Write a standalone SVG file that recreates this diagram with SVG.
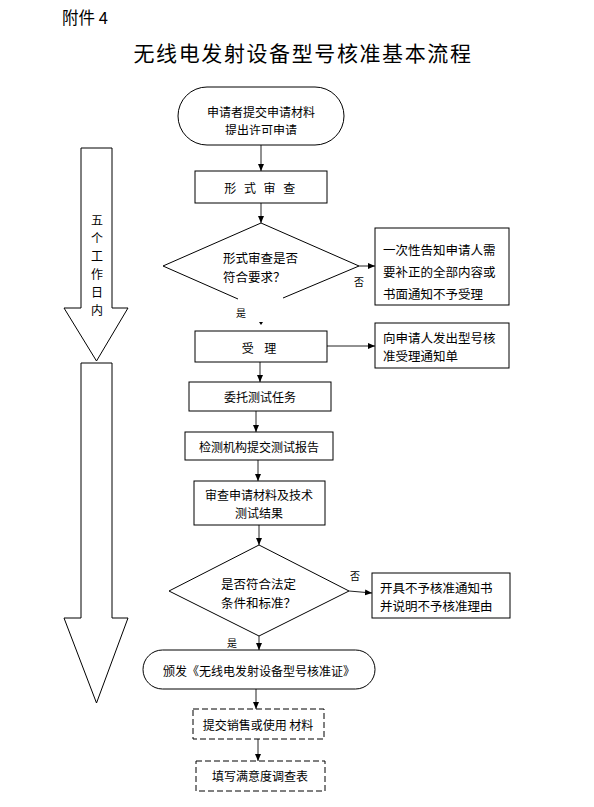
<svg xmlns="http://www.w3.org/2000/svg" width="594" height="807" viewBox="0 0 594 807">
<defs>
<style>
text{font-family:"Noto Sans CJK SC","Noto Sans",sans-serif;fill:#000}
.t{font-size:12px;text-anchor:middle;dominant-baseline:central}
.l{font-size:12.5px;dominant-baseline:central}
.s{font-size:10px;text-anchor:middle;dominant-baseline:central}
.box{fill:#fff;stroke:#000;stroke-width:1}
.dash{fill:#fff;stroke:#000;stroke-width:1;stroke-dasharray:6 3}
.con{stroke:#222;stroke-width:1;fill:none;marker-end:url(#ah)}
.big{fill:#fff;stroke:#000;stroke-width:1}
</style>
<marker id="ah" markerWidth="8" markerHeight="8" refX="7" refY="4" orient="auto" markerUnits="userSpaceOnUse">
<path d="M0,1 L7,4 L0,7 Z" fill="#000"/>
</marker>
<clipPath id="clip1"><rect x="178" y="87" width="166" height="48"/></clipPath>
</defs>
<rect width="594" height="807" fill="#fff"/>
<text x="62" y="17" style="font-size:16.5px;dominant-baseline:central">附件 4</text>
<text x="303" y="52" style="font-size:21px;letter-spacing:1.6px;text-anchor:middle;dominant-baseline:central">无线电发射设备型号核准基本流程</text>

<g id="timeline1">
<polygon class="big" points="81,148 112,148 112,308 128,308 96.5,361 64,308 81,308"/>
<text class="t" x="97" y="219">五</text>
<text class="t" x="97" y="237">个</text>
<text class="t" x="97" y="255">工</text>
<text class="t" x="97" y="273">作</text>
<text class="t" x="97" y="291">日</text>
<text class="t" x="97" y="309">内</text>
</g>
<g id="timeline2">
<polygon class="big" points="81,363 112,363 112,618 128,618 96.5,703 64,618 81,618"/>
</g>

<g id="connectors">
<line class="con" x1="261" y1="145" x2="261" y2="171"/>
<line class="con" x1="261" y1="203" x2="261" y2="223"/>
<line class="con" x1="359" y1="266" x2="375" y2="266"/>
<path d="M259,322 L263,322 L261,325 Z" fill="#000"/>
<line class="con" x1="327" y1="346" x2="375" y2="346"/>
<line class="con" x1="260" y1="362" x2="260" y2="382"/>
<line class="con" x1="256" y1="411" x2="256" y2="432"/>
<line class="con" x1="258" y1="460" x2="258" y2="481"/>
<line class="con" x1="259" y1="525" x2="259" y2="545"/>
<line class="con" x1="349" y1="591" x2="372" y2="593"/>
<line class="con" x1="259" y1="636" x2="259" y2="650"/>
<line class="con" x1="256" y1="689" x2="256" y2="709"/>
<line class="con" x1="258" y1="739" x2="258" y2="761"/>
<text class="s" x="359" y="281">否</text>
<text class="s" x="241" y="312">是</text>
<text class="s" x="355" y="575">否</text>
<text class="s" x="232" y="642">是</text>
</g>

<g id="start">
<rect class="box" x="178" y="87" width="166" height="58" rx="29"/>
<text class="t" x="261" y="111">申请者提交申请材料</text>
<text class="t" x="261" y="129" clip-path="url(#clip1)">提出许可申请</text>
</g>
<g id="formal">
<rect class="box" x="195" y="171" width="132" height="32"/>
<text class="t" x="261" y="187" style="letter-spacing:2.5px">形 式 审 查</text>
</g>
<g id="check1">
<polyline fill="none" stroke="#000" points="238,299 163,266 261,223 359,266 283,298"/>
<text class="l" x="223" y="257">形式审查是否</text>
<text class="l" x="223" y="276">符合要求？</text>
</g>
<g id="notify">
<rect class="box" x="375" y="228" width="134" height="77"/>
<text class="l" x="383" y="249">一次性告知申请人需</text>
<text class="l" x="383" y="271">要补正的全部内容或</text>
<text class="l" x="383" y="293">书面通知不予受理</text>
</g>
<g id="accept">
<rect class="box" x="195" y="331" width="132" height="31"/>
<text class="t" x="261" y="347" style="letter-spacing:4px">受 理</text>
</g>
<g id="acceptnotice">
<rect class="box" x="375" y="323" width="134" height="45"/>
<text class="l" x="383" y="337">向申请人发出型号核</text>
<text class="l" x="383" y="355">准受理通知单</text>
</g>
<g id="entrust">
<rect class="box" x="189" y="382" width="142" height="29"/>
<text class="t" x="260" y="396">委托测试任务</text>
</g>
<g id="report">
<rect class="box" x="185" y="432" width="148" height="28"/>
<text class="t" x="259" y="446">检测机构提交测试报告</text>
</g>
<g id="review">
<rect class="box" x="194" y="481" width="131" height="44"/>
<text class="t" x="259" y="494">审查申请材料及技术</text>
<text class="t" x="259" y="512">测试结果</text>
</g>
<g id="check2">
<polygon class="box" points="259,545 349,591 259,636 169,591"/>
<text class="l" x="221" y="583">是否符合法定</text>
<text class="l" x="221" y="602">条件和标准？</text>
</g>
<g id="reject">
<rect class="box" x="372" y="573" width="138" height="45"/>
<text class="l" x="380" y="587">开具不予核准通知书</text>
<text class="l" x="380" y="605">并说明不予核准理由</text>
</g>
<g id="issue">
<rect class="box" x="143" y="650" width="232" height="39" rx="19.5"/>
<text class="t" x="259" y="670">颁发《无线电发射设备型号核准证》</text>
</g>
<g id="submit">
<rect class="dash" x="193" y="709" width="131" height="30"/>
<text class="t" x="258" y="724">提交销售或使用 材料</text>
</g>
<g id="survey">
<rect class="dash" x="196" y="761" width="129" height="30"/>
<text class="t" x="260" y="775">填写满意度调查表</text>
</g>
</svg>
